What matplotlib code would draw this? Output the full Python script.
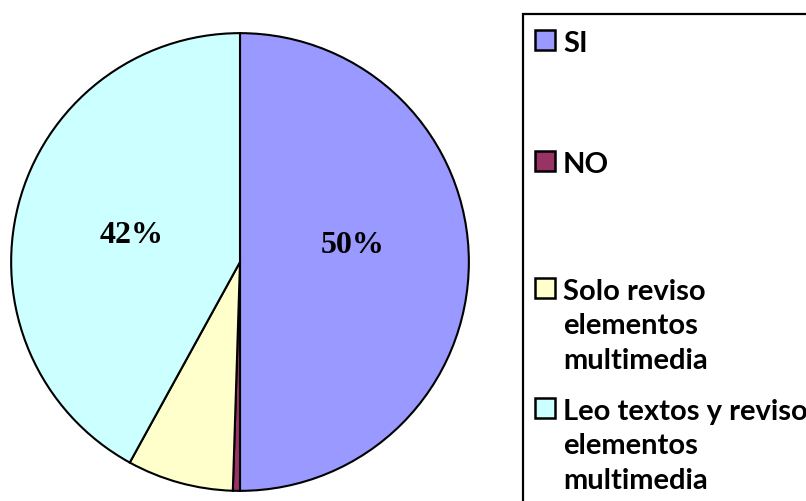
import matplotlib
matplotlib.use("Agg")
import matplotlib.pyplot as plt
from matplotlib.patches import Rectangle

# Datos del gráfico
categorias = ["SI", "NO", "Solo reviso\nelementos\nmultimedia", "Leo textos y reviso\nelementos\nmultimedia"]
valores = [50, 0.5, 7.5, 42]
colores = ["#9999FF", "#993366", "#FFFFCC", "#CCFFFF"]

fig = plt.figure(figsize=(8.06, 5.02), dpi=100)
ax = fig.add_axes([10 / 806, 9 / 502, 460 / 806, 460 / 502])


def etiqueta(pct):
    # Excel solo muestra las etiquetas de los sectores grandes
    return f"{pct:.0f}%" if pct > 10 else ""


wedges, textos, autotextos = ax.pie(
    valores, colors=colores, startangle=90, counterclock=False,
    autopct=etiqueta, pctdistance=0.49,
    wedgeprops=dict(edgecolor="black", linewidth=1.5),
    textprops=dict(family="Liberation Serif", fontweight="bold", fontsize=23),
)
# Excel sube un poco la etiqueta del 50%
x0, y0 = autotextos[0].get_position()
autotextos[0].set_position((x0, y0 + 0.075))
ax.set_xlim(-1.005, 1.005)
ax.set_ylim(-1.005, 1.005)
ax.set_aspect("equal")

# Leyenda dibujada a mano (el marco se sale de la figura)
W, H = 806, 502
fig.patches.append(Rectangle((523 / W, -0.1), 0.5, (H - 15) / H + 0.1,
                             transform=fig.transFigure, fill=False,
                             edgecolor="black", linewidth=1.6, clip_on=False))
lineas_base = [52, 173, 300, 420]
for texto, color, yb in zip(categorias, colores, lineas_base):
    fig.patches.append(Rectangle((535 / W, 1 - (yb - 1) / H), 20 / W, 20 / H,
                                 transform=fig.transFigure, facecolor=color,
                                 edgecolor="black", linewidth=1.8))
    fig.text(563 / W, 1 - (yb - 21) / H, texto, ha="left", va="top",
             family="Lato", fontweight="bold", fontsize=21, linespacing=1.4)

fig.savefig("out.png", dpi=100)
